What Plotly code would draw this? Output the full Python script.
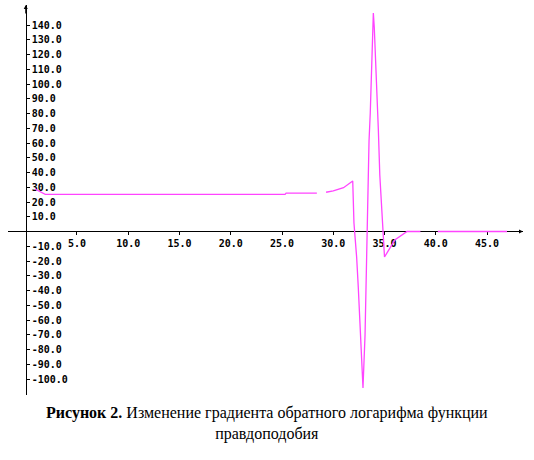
import plotly.graph_objects as go

# Gradient of the inverse log-likelihood
x_vals = [0.9, 1.9, 25.3, 25.4, 28.4, None, 29.3, 30.0, 31.0, 31.6, 31.9,
          32.02, 32.17, 32.28, 32.44, 32.61, 32.77, 32.9,
          33.1, 33.26, 33.36, 33.49, 33.61, 33.71, 33.81, 33.91,
          34.0, 34.14, 34.27, 34.4, 34.54, 34.73, 34.9, 35.0,
          36.0, 37.2, 38.5, None, 40.2, 46.95]
y_vals = [28.8, 25.2, 25.2, 26.0, 26.0, None, 26.6, 27.5, 29.7, 33.1, 34.2,
          5.8, -5.8, -17.3, -37.6, -63.4, -92.5, -106.0,
          -70.2, -18.6, 23.4, 61.4, 80.3, 105.4, 126.4, 148.1,
          138.6, 117.6, 91.2, 68.8, 38.3, 11.2, -9.2, -17.3,
          -5.8, 0.0, 0.0, None, 0.0, 0.0]

x_ticks = [5, 10, 15, 20, 25, 30, 35, 40, 45]
x_tick_text = ["5.0", "10.0", "15.0", "20.0", "25.0", "30.0", "35.0", "40.0", "45.0"]
y_ticks = [140, 130, 120, 110, 100, 90, 80, 70, 60, 50, 40, 30, 20, 10,
           -10, -20, -30, -40, -50, -60, -70, -80, -90, -100]
y_tick_text = [f"{v}.0" for v in y_ticks]

caption = ("<b>Рисунок 2.</b> Изменение градиента обратного логарифма функции"
           "<br>правдоподобия")

X_RANGE = [-1.73, 48.51]
Y_RANGE = [-110.85, 153.56]

fig = go.Figure()
fig.add_trace(go.Scatter(x=x_vals, y=y_vals, mode="lines",
                         line=dict(color="#ff44ff", width=1.3),
                         connectgaps=False, hoverinfo="skip"))

tick_font = dict(family="DejaVu Sans Mono", size=10, color="black", weight="bold")

fig.update_layout(
    width=534, height=460,
    margin=dict(l=8, r=11, t=5, b=65),
    plot_bgcolor="white", paper_bgcolor="white",
    showlegend=False,
    xaxis=dict(range=X_RANGE, showgrid=False, zeroline=False,
               showline=False, layer="below traces",
               anchor="free", position=(0 - Y_RANGE[0]) / (Y_RANGE[1] - Y_RANGE[0]),
               tickmode="array", tickvals=x_ticks, ticktext=x_tick_text,
               ticks="outside", ticklen=3, tickcolor="black", tickwidth=1,
               tickfont=tick_font),
    yaxis=dict(range=Y_RANGE, showgrid=False, zeroline=False,
               showline=True, linecolor="black", linewidth=1, layer="below traces",
               anchor="free", side="right",
               position=(0 - X_RANGE[0]) / (X_RANGE[1] - X_RANGE[0]),
               tickmode="array", tickvals=y_ticks, ticktext=y_tick_text,
               ticks="outside", ticklen=3, tickcolor="black", tickwidth=1,
               tickfont=tick_font),
    shapes=[dict(type="line", xref="x", yref="y", x0=X_RANGE[0], x1=X_RANGE[1],
                 y0=0, y1=0, layer="below", line=dict(color="black", width=1))],
    annotations=[
        dict(x=X_RANGE[1], y=0, xref="x", yref="y", text="", showarrow=True,
             ax=-10, ay=0, arrowhead=2, arrowsize=0.8, arrowwidth=1, arrowcolor="black"),
        dict(x=0, y=Y_RANGE[1], xref="x", yref="y", text="", showarrow=True,
             ax=0, ay=10, arrowhead=2, arrowsize=0.8, arrowwidth=1, arrowcolor="black"),
        dict(x=0.503, y=-0.072, xref="paper", yref="paper", text=caption,
             showarrow=False, xanchor="center", yanchor="middle", align="center",
             font=dict(family="Liberation Serif", size=16, color="black")),
    ],
)

fig.write_html("out.html", config={"displayModeBar": False},
               post_script="document.body.style.margin='0';")
